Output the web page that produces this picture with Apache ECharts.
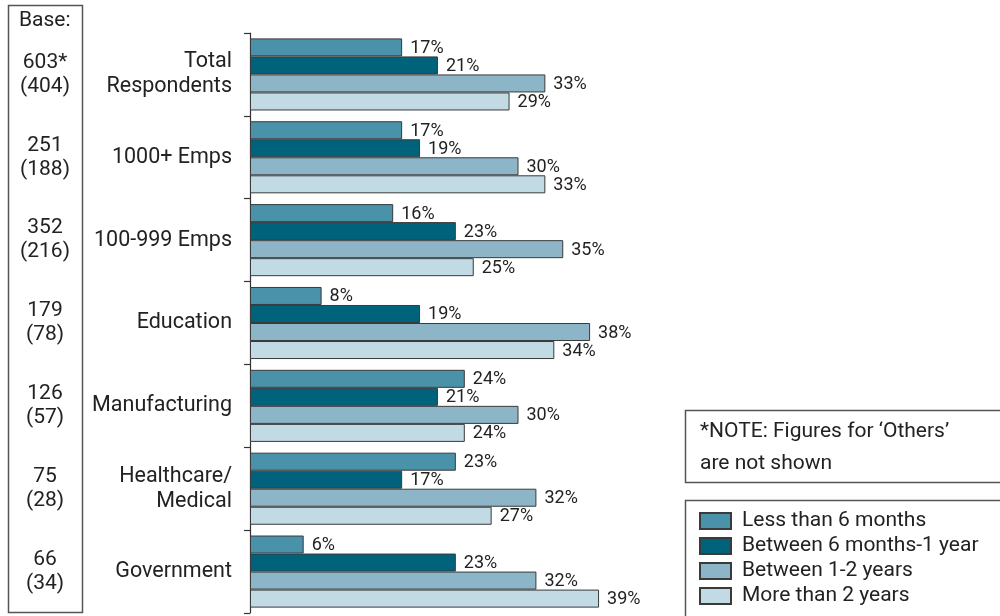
<!DOCTYPE html>
<html>
<head>
<meta charset="utf-8">
<script src="https://cdn.jsdelivr.net/npm/echarts@6/dist/echarts.min.js"></script>
<style>
  html, body { margin: 0; padding: 0; background: #fff; }
  #chart { width: 1000px; height: 616px; }
</style>
</head>
<body>
<div id="chart"></div>
<script>
// Segments and their base sizes
const categories = ['Total\nRespondents', '1000+ Emps', '100-999 Emps', 'Education', 'Manufacturing', 'Healthcare/\nMedical', 'Government'];
const baseTotal = ['603*', '251', '352', '179', '126', '75', '66'];
const baseSub = ['(404)', '(188)', '(216)', '(78)', '(57)', '(28)', '(34)'];

// Share of respondents (%) per time span
const seriesNames = ['Less than 6 months', 'Between 6 months-1 year', 'Between 1-2 years', 'More than 2 years'];
const lessThan6Months = [17, 17, 16, 8, 24, 23, 6];
const sixMonthsTo1Year = [21, 19, 23, 19, 21, 17, 23];
const oneTo2Years = [33, 30, 35, 38, 30, 32, 32];
const moreThan2Years = [29, 33, 25, 34, 24, 27, 39];

const colors = ['#4a91aa', '#00627b', '#8cb6c8', '#c1dae3'];
const FONT = "Roboto, 'Liberation Sans', sans-serif";
const TXT = '#222';

const chart = echarts.init(document.getElementById('chart'));

const values = [lessThan6Months, sixMonthsTo1Year, oneTo2Years, moreThan2Years];
const series = values.map((v, i) => ({
  name: seriesNames[i],
  type: 'bar',
  data: v,
  barGap: '0%',
  barCategoryGap: '13%',
  itemStyle: { color: colors[i], borderColor: '#3a3a3a', borderWidth: 1 },
  label: {
    show: true,
    position: 'right',
    distance: 8,
    formatter: '{c}%',
    fontFamily: FONT,
    fontSize: 18,
    color: TXT,
    offset: [0, 1]
  },
  emphasis: { disabled: true },
  animation: false
}));

chart.setOption({
  animation: false,
  textStyle: { fontFamily: FONT },
  grid: { left: 250, top: 33, width: 358, height: 580, containLabel: false },
  xAxis: {
    type: 'value',
    min: 0,
    max: 40,
    show: false
  },
  yAxis: [
    {
      type: 'category',
      data: categories,
      inverse: true,
      axisLine: { show: true, lineStyle: { color: '#333', width: 1.2 } },
      axisTick: { show: true, length: 6, inside: false, lineStyle: { color: '#333', width: 1.2 } },
      axisLabel: {
        margin: 18,
        fontFamily: FONT,
        fontSize: 21.5,
        color: TXT,
        lineHeight: 25,
        align: 'right'
      }
    },
    {
      type: 'category',
      data: categories,
      inverse: true,
      position: 'left',
      axisLine: { show: false },
      axisTick: { show: false },
      axisLabel: {
        margin: 205,
        align: 'center',
        fontFamily: FONT,
        fontSize: 21,
        color: TXT,
        lineHeight: 24,
        formatter: (val, idx) => baseTotal[idx] + '\n' + baseSub[idx]
      }
    }
  ],
  legend: {
    orient: 'vertical',
    left: 699,
    top: 510,
    padding: 0,
    itemWidth: 31,
    itemHeight: 16,
    itemGap: 3,
    icon: 'rect',
    selectedMode: false,
    textStyle: { fontFamily: FONT, fontSize: 21, lineHeight: 22, color: TXT, padding: [0, 0, 0, 6] },
    data: seriesNames
  },
  graphic: [
    {
      type: 'rect',
      shape: { x: 8.5, y: 5.5, width: 74, height: 607 },
      style: { fill: 'none', stroke: '#555', lineWidth: 1.5 },
      silent: true
    },
    {
      type: 'text',
      left: 19,
      top: 10,
      style: { text: 'Base:', fontFamily: FONT, fontSize: 21, fill: TXT }
    },
    {
      type: 'rect',
      shape: { x: 685.5, y: 410.5, width: 320, height: 72 },
      style: { fill: 'none', stroke: '#555', lineWidth: 1.5 },
      silent: true
    },
    {
      type: 'text',
      left: 700,
      top: 416,
      style: {
        text: '*NOTE: Figures for \u2018Others\u2019\nare not shown',
        fontFamily: FONT,
        fontSize: 21,
        lineHeight: 32,
        fill: TXT
      }
    },
    {
      type: 'rect',
      shape: { x: 685.5, y: 500.5, width: 320, height: 120 },
      style: { fill: 'none', stroke: '#555', lineWidth: 1.5 },
      silent: true
    }
  ],
  series: series
});
</script>
</body>
</html>
